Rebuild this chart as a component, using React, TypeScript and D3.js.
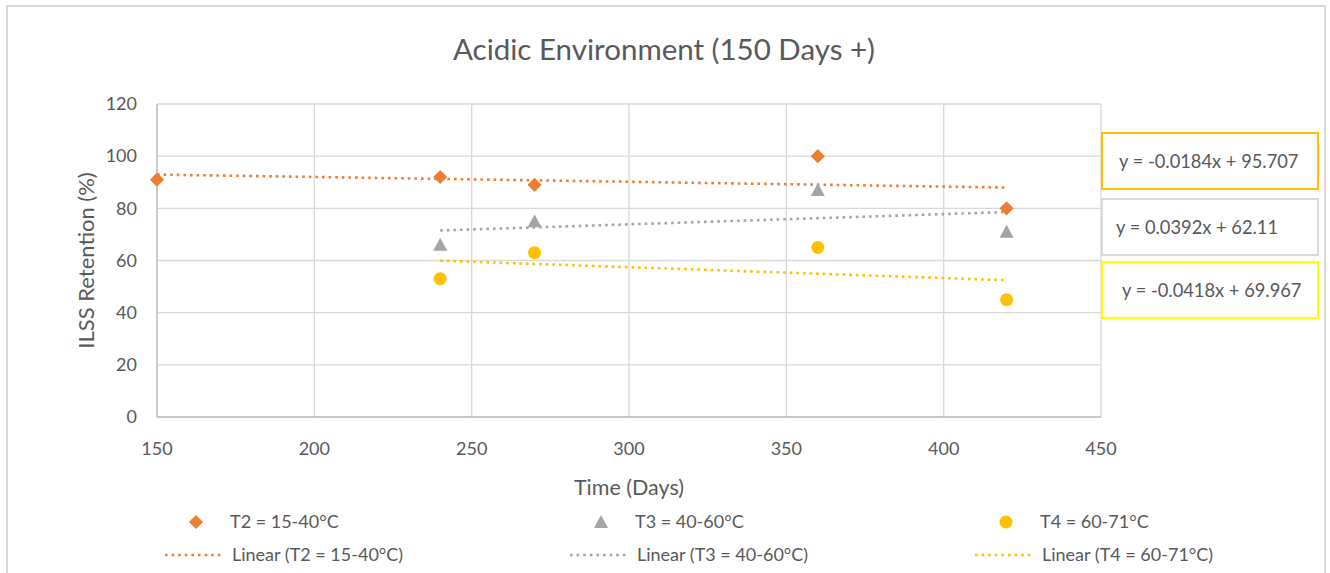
import React from "react";
import * as d3 from "d3";

const title = "Acidic Environment (150 Days +)";
const xAxisTitle = "Time (Days)";
const yAxisTitle = "ILSS Retention (%)";
const xTicks = [150, 200, 250, 300, 350, 400, 450];
const yTicks = [0, 20, 40, 60, 80, 100, 120];

const seriesNames = ["T2 = 15-40°C", "T3 = 40-60°C", "T4 = 60-71°C"];
const seriesColors = ["#ED7D31", "#A5A5A5", "#FFC000"];
const seriesShapes = ["diamond", "triangle", "circle"];

const t2Days = [150, 240, 270, 360, 420];
const t2Values = [91, 92, 89, 100, 80];
const t3Days = [240, 270, 360, 420];
const t3Values = [66, 75, 87, 71];
const t4Days = [240, 270, 360, 420];
const t4Values = [53, 63, 65, 45];

const eqBoxColors = ["#FFC000", "#D9D9D9", "#FFFF00"];

const FONT = "Lato, 'Open Sans', sans-serif";
const TXT = "#595959";

function fit(xs: number[], ys: number[]) {
  const mx = d3.mean(xs)!;
  const my = d3.mean(ys)!;
  let sxy = 0, sxx = 0;
  xs.forEach((x, i) => {
    sxy += (x - mx) * (ys[i] - my);
    sxx += (x - mx) * (x - mx);
  });
  const slope = sxy / sxx;
  return { slope, intercept: my - slope * mx };
}

function fmtEq(slope: number, intercept: number) {
  return `y = ${slope.toFixed(4)}x + ${+intercept.toFixed(3)}`;
}

function Marker({ shape, x, y, color }: { shape: string; x: number; y: number; color: string }) {
  if (shape === "diamond") {
    const p = d3.symbol().type(d3.symbolSquare).size(100)();
    return <path d={p!} transform={`translate(${x},${y}) rotate(45)`} fill={color} />;
  }
  if (shape === "triangle") {
    const s = 7;
    return <path d={`M${x},${y - s}L${x + s},${y + s * 0.85}L${x - s},${y + s * 0.85}Z`} fill={color} />;
  }
  return <circle cx={x} cy={y} r={6.5} fill={color} />;
}

export default function App() {
  const W = 1330, H = 573;
  const left = 157, right = 1101, top = 104, bottom = 417;
  const x = d3.scaleLinear().domain([150, 450]).range([left, right]);
  const y = d3.scaleLinear().domain([0, 120]).range([bottom, top]);

  const series = [
    { days: t2Days, values: t2Values },
    { days: t3Days, values: t3Values },
    { days: t4Days, values: t4Values },
  ];
  const fits = series.map((s) => fit(s.days, s.values));
  const line = d3.line<[number, number]>().x((d) => x(d[0])).y((d) => y(d[1]));

  const boxTops = [133, 199, 262];
  const textX = [1119, 1116, 1122];
  const legendCols = [196, 601, 1006];

  return (
    <svg width={W} height={H} style={{ position: "absolute", left: 0, top: 0, background: "#fff" }} fontFamily={FONT}>
      <rect x={0} y={0} width={W} height={H} fill="#fff" />
      <rect x={7} y={6} width={1318} height={H + 20} fill="none" stroke="#D9D9D9" strokeWidth={2} />
      <text x={664} y={60} textAnchor="middle" fontSize={29.5} fill={TXT}>{title}</text>

      {/* gridlines */}
      {xTicks.map((t) => (
        <line key={"gx" + t} x1={x(t)} x2={x(t)} y1={top} y2={bottom} stroke="#D9D9D9" strokeWidth={1.3} />
      ))}
      {yTicks.map((t) => (
        <line key={"gy" + t} x1={left} x2={right} y1={y(t)} y2={y(t)} stroke="#D9D9D9" strokeWidth={1.3} />
      ))}
      <line x1={left} x2={left} y1={top} y2={bottom} stroke="#BFBFBF" strokeWidth={1.3} />
      <line x1={left} x2={right} y1={bottom} y2={bottom} stroke="#BFBFBF" strokeWidth={1.3} />

      {yTicks.map((t) => (
        <text key={"ty" + t} x={137} y={y(t)} dy="0.35em" textAnchor="end" fontSize={18} fill={TXT}>{t}</text>
      ))}
      {xTicks.map((t) => (
        <text key={"tx" + t} x={x(t)} y={455} textAnchor="middle" fontSize={18} fill={TXT}>{t}</text>
      ))}
      <text x={629} y={495} textAnchor="middle" fontSize={21.5} fill={TXT}>{xAxisTitle}</text>
      <text transform={`translate(94,${(top + bottom) / 2}) rotate(-90)`} textAnchor="middle" fontSize={22} fill={TXT}>{yAxisTitle}</text>

      {/* trendlines */}
      {series.map((s, i) => {
        const x0 = d3.min(s.days)!, x1 = d3.max(s.days)!;
        const f = fits[i];
        return (
          <path key={"tr" + i}
            d={line([[x0, f.slope * x0 + f.intercept], [x1, f.slope * x1 + f.intercept]])!}
            stroke={seriesColors[i]} strokeWidth={2.6} strokeDasharray="2.6 4" fill="none" />
        );
      })}

      {/* markers */}
      {series.map((s, i) =>
        s.days.map((d, j) => (
          <Marker key={`m${i}-${j}`} shape={seriesShapes[i]} x={x(d)} y={y(s.values[j])} color={seriesColors[i]} />
        ))
      )}

      {/* equation boxes */}
      {fits.map((f, i) => (
        <g key={"eq" + i}>
          <rect x={1102} y={boxTops[i]} width={216} height={56} fill="#fff" stroke={eqBoxColors[i]} strokeWidth={2} />
          <text x={textX[i]} y={boxTops[i] + 35} fontSize={18.3} fill={TXT}>{fmtEq(f.slope, f.intercept)}</text>
        </g>
      ))}

      {/* legend */}
      {seriesNames.map((n, i) => {
        const cx = legendCols[i];
        return (
          <g key={"lg" + i}>
            <Marker shape={seriesShapes[i]} x={cx} y={522} color={seriesColors[i]} />
            <text x={cx + 34} y={522} dy="0.35em" fontSize={18} fill={TXT}>{n}</text>
            <line x1={cx - 31} x2={cx + 27} y1={555} y2={555} stroke={seriesColors[i]} strokeWidth={2.6} strokeDasharray="2.6 4" />
            <text x={cx + 36} y={555} dy="0.35em" fontSize={18} fill={TXT}>{`Linear (${n})`}</text>
          </g>
        );
      })}
    </svg>
  );
}
